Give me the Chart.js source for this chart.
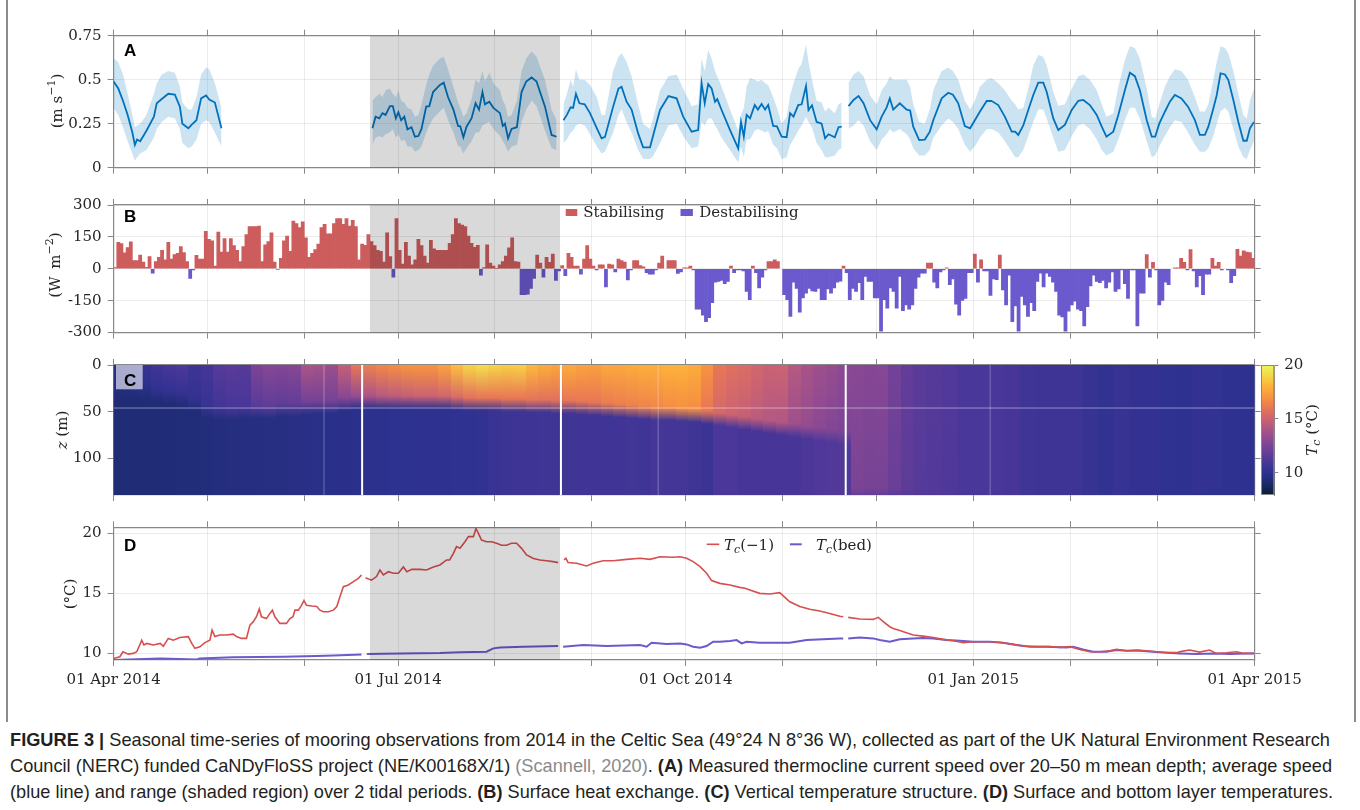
<!DOCTYPE html>
<html>
<head>
<meta charset="utf-8">
<title>Celtic Sea mooring time-series, 2014–2015</title>
<script src="https://cdn.jsdelivr.net/npm/chart.js@4.4.1/dist/chart.umd.min.js"></script>
<style>
  html, body { margin: 0; padding: 0; background: #fff; }
  #fig { position: relative; width: 1360px; height: 810px; overflow: hidden; background: #fff; }
  #fig canvas { position: absolute; }
  .edge { position: absolute; background: #8c8c8c; }
  .cap { position: absolute; left: 10px; white-space: nowrap; font-family: "Liberation Sans", Arial, sans-serif;
         font-size: 19px; line-height: 20px; color: #231f20; transform-origin: 0 50%; }
  .cap b { font-weight: bold; }
  .cap .ref { color: #8a8a8a; }
</style>
</head>
<body>
<div id="fig">
  <div class="edge" style="left:6px;top:0;width:2px;height:722px"></div>
  <div class="edge" style="left:1354px;top:0;width:2px;height:722px"></div>
  <canvas id="cA"></canvas>
  <canvas id="cB"></canvas>
  <canvas id="cC"></canvas>
  <canvas id="cBar"></canvas>
  <canvas id="cD"></canvas>
  <div class="cap" data-w="1320" style="top:730px"><b>FIGURE 3 |</b> Seasonal time-series of mooring observations from 2014 in the Celtic Sea (49°24 N 8°36 W), collected as part of the UK Natural Environment Research</div>
  <div class="cap" data-w="1322" style="top:756px">Council (NERC) funded CaNDyFloSS project (NE/K00168X/1) <span class="ref">(Scannell, 2020)</span>. <b>(A)</b> Measured thermocline current speed over 20–50 m mean depth; average speed</div>
  <div class="cap" data-w="1323" style="top:782px">(blue line) and range (shaded region) over 2 tidal periods. <b>(B)</b> Surface heat exchange. <b>(C)</b> Vertical temperature structure. <b>(D)</b> Surface and bottom layer temperatures.</div>
</div>
<script>
// ---------------------------------------------------------------------------
// Time axis: days since 01 Apr 2014
// ---------------------------------------------------------------------------
const monthTicks = [0, 30, 61, 91, 122, 153, 183, 214, 244, 275, 306, 334, 365];
const dateLabels = { 0: '01 Apr 2014', 91: '01 Jul 2014', 183: '01 Oct 2014', 275: '01 Jan 2015', 365: '01 Apr 2015' };
const shadeStart = 82.0;   // highlighted period
const shadeEnd = 142.8;

// ---------------------------------------------------------------------------
// (A) thermocline current speed (m/s): mean and range over 2 tidal periods
// null entries mark gaps between deployments
// ---------------------------------------------------------------------------
const speedDay = [
  0,1.5,3,4.5,6,6.8,7.5,8.5,10.5,12.9,13.8,15.4,17.5,19.6,21.2,22,23.9,25,26.5,28,29.6,30.6,32.4,34.5,
  58,
  82.8,83.8,85,86,87,88.4,89.3,90.3,91.1,92,93,94,95.3,96.4,97.5,98.5,100,101,102.2,104.4,105.6,107,108.7,110.2,110.9,111.9,112.9,114.5,115.8,116.9,118,118.8,120.2,121.5,123.6,124.5,125.2,126.2,127.3,129,130.5,132,133.7,135.3,138,140.1,141.7,
  142.8,
  143.9,145,146.2,147,147.9,149,150.7,152.4,154.6,156.1,157.2,159.8,161.5,162.5,164.1,165.7,167.8,169.4,171.6,172.7,174.8,177.5,180.1,182.2,184.9,187,188.1,189.1,190.2,191.3,192.4,193.1,194.5,197.2,199.8,200.7,201.6,202.5,203.6,205.1,206.1,207.3,208.4,209.4,211,212.2,213.7,215.3,216.4,217.5,219,220.1,221.5,222.3,223.4,224.9,226.5,227.6,228.7,230.7,231.9,232.9,
  234,
  235.1,236.7,238.3,239.9,242,244.1,245.7,247.3,248.3,249.4,251.5,253.7,254.8,255.8,257.7,259.5,261.1,262.2,264.9,267,268.5,270.2,272.3,274,275.5,277.1,279.3,280.8,283,285.1,287.3,288.4,289.4,291,292.6,294.2,295.8,297.4,298.5,300.6,302.2,304.3,306.5,308.6,310.2,312.3,314.5,316.1,317.6,319.8,321.4,323.5,325.1,326.7,328.3,330.5,332.1,333.2,334.5,336.3,337.9,339.5,341.6,343.7,345.9,347.5,349.1,350.2,351.8,352.9,354.1,355.5,356.6,358.2,359.8,361.4,362.5,363.5,364.8
];
const speedMean = [
  0.49,0.45,0.38,0.30,0.20,0.13,0.16,0.15,0.21,0.29,0.366,0.39,0.42,0.415,0.347,0.25,0.224,0.245,0.27,0.394,0.41,0.387,0.37,0.224,
  null,
  0.224,0.29,0.28,0.31,0.30,0.35,0.35,0.28,0.315,0.27, 0.29,0.218,0.23,0.176,0.18,0.22,0.347,0.35,0.43,0.47, 0.483,0.40,0.33,0.237,0.235,0.173,0.233,0.28,0.366,0.33, 0.43,0.36,0.375,0.34,0.31,0.237,0.25,0.167,0.22,0.23, 0.43,0.49,0.513,0.49,0.347,0.186,0.176,
  null,
  0.27,0.30,0.343,0.34,0.42,0.366,0.36,0.31,0.224,0.167, 0.175,0.347,0.45,0.46,0.375,0.33,0.195,0.116,0.116,0.19, 0.328,0.407,0.394,0.29,0.205,0.214,0.48,0.366,0.475,0.45, 0.375,0.39,0.328,0.214,0.11,0.26,0.176,0.30,0.28,0.356, 0.33,0.362,0.33,0.356,0.237,0.235,0.176,0.173,0.31,0.29, 0.356,0.36,0.464,0.328,0.355,0.26,0.25,0.167,0.19,0.173, 0.23,0.233,
  null,
  0.35,0.385,0.407,0.366,0.27,0.218,0.29,0.343,0.394,0.33, 0.366,0.33,0.325,0.233,0.157,0.16,0.205,0.27,0.394,0.426, 0.415,0.366,0.237,0.224,0.27,0.318,0.379,0.38,0.356,0.29, 0.205,0.205,0.186,0.24,0.328,0.413,0.483,0.483,0.43,0.28, 0.214,0.243,0.328,0.38,0.385,0.356,0.30,0.233,0.176,0.205, 0.30,0.44,0.54,0.52,0.44,0.27,0.176,0.176,0.25,0.318, 0.375,0.413,0.394,0.347,0.27,0.186,0.186,0.233,0.337,0.413, 0.536,0.53,0.498,0.385,0.26,0.153,0.153,0.224,0.26
];
const speedLow = [
  0.34,0.30,0.23,0.15,0.08,0.04,0.06,0.08,0.10,0.17,0.22,0.26,0.29,0.28,0.22,0.14,0.11,0.12,0.16,0.25,0.27,0.26,0.20,0.12,
  null,
  0.13,0.17,0.18,0.17,0.19,0.20,0.22,0.17,0.19,0.15, 0.16,0.12,0.12,0.09,0.10,0.12,0.20,0.24,0.28,0.32, 0.34,0.27,0.20,0.12,0.12,0.08,0.11,0.15,0.20,0.20, 0.24,0.25,0.26,0.22,0.18,0.15,0.13,0.09,0.12,0.13, 0.26,0.33,0.38,0.35,0.21,0.11,0.10,
  null,
  0.14,0.16,0.20,0.21,0.24,0.25,0.24,0.19,0.12,0.08, 0.09,0.20,0.30,0.33,0.26,0.20,0.10,0.05,0.05,0.07, 0.14,0.24,0.25,0.18,0.11,0.12,0.26,0.24,0.28,0.28, 0.24,0.22,0.17,0.10,0.03,0.12,0.06,0.16,0.16,0.21, 0.22,0.21,0.20,0.21,0.13,0.11,0.05,0.06,0.13,0.16, 0.21,0.24,0.29,0.26,0.23,0.14,0.10,0.06,0.06,0.07, 0.10,0.11,
  null,
  0.22,0.24,0.27,0.24,0.15,0.10,0.16,0.19,0.22,0.20, 0.22,0.19,0.16,0.11,0.07,0.07,0.10,0.17,0.24,0.28, 0.26,0.22,0.13,0.09,0.12,0.17,0.22,0.22,0.20,0.15, 0.09,0.06,0.06,0.10,0.18,0.26,0.33,0.33,0.28,0.17, 0.09,0.10,0.18,0.24,0.25,0.22,0.16,0.10,0.07,0.09, 0.16,0.27,0.34,0.34,0.28,0.15,0.06,0.07,0.12,0.18, 0.23,0.27,0.26,0.20,0.13,0.09,0.09,0.11,0.18,0.25, 0.32,0.34,0.32,0.22,0.12,0.06,0.05,0.10,0.15
];
const speedHigh = [
  0.62,0.60,0.53,0.42,0.30,0.23,0.24,0.25,0.30,0.42,0.48,0.53,0.55,0.54,0.46,0.37,0.33,0.33,0.40,0.53,0.57,0.56,0.48,0.34,
  null,
  0.38,0.40,0.42,0.40,0.44,0.45,0.42,0.40,0.44,0.38, 0.37,0.34,0.33,0.29,0.30,0.36,0.47,0.53,0.58,0.62, 0.63,0.56,0.46,0.37,0.34,0.29,0.31,0.39,0.50,0.48, 0.55,0.49,0.54,0.48,0.44,0.38,0.36,0.29,0.30,0.38, 0.55,0.62,0.66,0.63,0.50,0.33,0.27,
  null,
  0.36,0.42,0.50,0.46,0.56,0.50,0.50,0.47,0.40,0.30, 0.30,0.55,0.63,0.65,0.60,0.52,0.36,0.25,0.22,0.29, 0.44,0.52,0.53,0.45,0.35,0.36,0.62,0.55,0.67,0.62, 0.55,0.52,0.46,0.33,0.21,0.30,0.34,0.46,0.51,0.50, 0.49,0.50,0.48,0.47,0.40,0.34,0.25,0.29,0.41,0.48, 0.56,0.59,0.70,0.60,0.50,0.38,0.37,0.32,0.34,0.31, 0.36,0.37,
  null,
  0.48,0.53,0.55,0.52,0.41,0.36,0.44,0.48,0.52,0.50, 0.50,0.50,0.46,0.36,0.26,0.25,0.33,0.44,0.55,0.57, 0.55,0.50,0.38,0.33,0.38,0.46,0.50,0.51,0.48,0.44, 0.38,0.36,0.33,0.34,0.45,0.58,0.64,0.63,0.58,0.43, 0.35,0.36,0.45,0.52,0.53,0.50,0.44,0.36,0.29,0.31, 0.46,0.61,0.69,0.68,0.62,0.45,0.29,0.28,0.36,0.46, 0.52,0.56,0.55,0.50,0.40,0.32,0.32,0.36,0.50,0.60, 0.69,0.68,0.65,0.55,0.42,0.30,0.28,0.38,0.45
];

// ---------------------------------------------------------------------------
// (B) daily surface heat exchange (W m-2), one value per day from 01 Apr 2014
// ---------------------------------------------------------------------------
const heatFlux = [
  5,124,119,75,100,127,39,39,64,31,        7,57,-21,34,54,87,42,124,45,67,
  72,104,76,34,-45,-5,63,45,45,176,        139,131,12,172,79,142,79,142,109,87,
  34,104,161,198,198,198,201,34,112,128,   169,31,-3,49,131,154,82,224,213,194,
  221,146,54,72,90,116,194,209,164,164,    213,236,236,209,236,201,228,198,42,116,
  110,161,128,109,87,82,31,169,57,-40,     236,87,22,124,60,19,42,139,109,60,
  27,134,94,87,87,87,87,120,161,236,       213,205,198,154,120,101,110,-30,5,112,
  27,12,2,19,34,60,98,146,34,31,           -122,-122,-120,-92,-45,64,27,-40,54,30,
  69,-55,-10,15,-33,72,54,12,12,-25,       45,109,45,12,-6,19,19,-85,22,19,
  -15,45,39,31,-52,-6,39,39,15,9,          -18,-25,-25,-6,27,60,0,39,39,39,
  -22,-15,4,4,12,-5,-190,-190,-219,-249,   -230,-160,-63,-60,-55,-70,-60,12,-18,-6,
  -6,-10,-107,-145,12,-18,-90,-40,-6,34,   34,42,34,0,-122,-145,-224,-63,-92,-204,
  -137,-115,-92,-104,-107,-92,-145,-145,-95,-115, -90,-63,-58,12,-18,-145,-92,-107,-66,-145,
  -36,-60,-60,-137,-137,-294,-145,-185,-90,-107,  -185,-36,-197,-170,-190,-170,-92,-40,-21,-21,
  27,27,-63,-90,-15,-6,4,-75,-48,-167,     -219,-149,-140,-18,-18,69,-63,42,-10,-10,
  -125,-48,-51,64,-100,-170,-30,-249,-175,-294, -130,-170,-224,-160,-197,-60,-21,-85,-21,-36,
  -63,-107,-219,-227,-294,-200,-170,-152,-190,-197, -269,-179,-81,-30,-60,-66,-55,-90,-63,-15,
  -107,-95,-6,-70,-140,-6,-6,-269,-115,-115, 67,-40,30,-6,-170,-149,-63,-75,0,4,
  4,49,30,-6,90,-10,-85,-33,-122,-25,      -25,49,12,30,-6,0,-6,-66,-33,91,
  60,84,79,76,49
];

// ---------------------------------------------------------------------------
// (C) temperature structure: one profile per column (start day)
// surface temperature, temperature at the base of the upper layer,
// thermocline depth (m) and near-bed temperature (°C)
// ---------------------------------------------------------------------------
const colDay = [
  0,4,8,12,16,20,24,28,32,36, 40,44,48,52,56,60,64,68,72,76, 80,84,88,92,96,100,104,108,112,116,
  120,124,128,132,136,140,144,148,152,156, 160,164,168,172,176,180,184,188,192,196,
  200,204,208,212,216,220,224,228,232,236, 240,244,248,252,256,260,
  265,270,275,280,285,290,295,300,305,310,315,320,325,330,335,340,345,350,355,360
];
const colTop = [
  9.8,10.0,10.4,10.7,10.9,11.1,10.6,10.8,11.4,11.5, 11.4,12.6,12.9,12.8,12.9,14.0,13.8,13.5,14.8,16.0,
  16.3,16.6,16.8,17.0,17.0,17.0,17.5,18.4,19.0,19.3, 19.0,18.8,18.9,18.2,17.8,17.6,17.8,17.5,17.4,17.7,
  17.7,17.8,17.9,17.9,18.0,18.0,17.8,17.0,16.0,15.7, 15.5,15.2,14.95,15.0,14.3,13.9,13.6,13.35,13.1,12.95,
  12.85,12.9,12.3,11.8,11.5,11.35,
  11.2,10.95,10.97,10.97,10.9,10.62,10.56,10.55,10.55,10.3,10.14,10.3,10.22,10.2,10.1,10.08,10.2,10.15,10.05,10.05
];
const colMix = [
  9.6,9.7,9.9,10.1,10.2,10.3,10.2,10.4,10.7,10.9, 11.0,11.5,11.7,11.7,11.8,12.3,12.4,12.4,12.9,13.4,
  14.0,14.4,14.6,14.8,15.0,15.0,15.2,15.5,15.8,16.0, 16.0,16.0,16.0,15.9,15.8,15.7,16.0,16.0,16.0,16.2,
  16.3,16.4,16.5,16.6,16.8,16.9,16.8,16.0,15.3,15.0, 14.8,14.5,14.3,14.2,13.6,13.3,13.0,12.8,12.6,12.5,
  12.4,12.4,12.0,11.6,11.4,11.3,
  11.15,10.95,10.97,10.97,10.9,10.62,10.56,10.55,10.55,10.3,10.14,10.3,10.22,10.2,10.1,10.08,10.2,10.15,10.05,10.05
];
const colMld = [
  28,28,30,32,34,35,42,50,52,52, 50,50,50,48,48,46,45,45,42,40,
  40,40,40,40,40,40,40,41,42,42, 42,43,43,44,44,45,45,46,47,48,
  49,50,51,52,52,53,54,56,58,60, 62,64,66,68,70,72,74,76,78,139,
  139,139,139,139,139,139,
  139,139,139,139,139,139,139,139,139,139,139,139,139,139,139,139,139,139,139,139
];
const colBed = [
  9.3,9.3,9.3,9.3,9.35,9.4,9.4,9.45,9.5,9.55, 9.6,9.6,9.65,9.65,9.7,9.75,9.8,9.8,9.85,9.9,
  9.95,9.95,10.0,10.0,10.03,10.05,10.05,10.1,10.1,10.15, 10.4,10.5,10.55,10.55,10.6,10.6,10.6,10.65,10.65,10.62,
  10.65,10.68,10.65,10.85,10.8,10.8,10.6,10.5,10.95,11.0, 10.9,10.9,10.89,10.89,10.9,11.05,11.15,11.2,11.25,11.9,
  11.7,11.7,11.5,11.35,11.3,11.27,
  11.12,11.05,10.97,10.97,10.88,10.62,10.56,10.55,10.53,10.3,10.14,10.28,10.22,10.18,10.08,10.02,9.95,10.0,9.95,10.0
];
const zBottom = 139;              // water depth shown (m)
const refDepth = 46;              // reference depth line (m)
const gapDays = [79.5, 143.1, 234.2];     // record breaks
const seamDays = [67.3, 174.2, 280.4];    // faint seams between sections

// colour scale for T_c (°C)
const cbTemp = [8, 9, 10, 11, 12, 13, 14, 15, 16, 17, 18, 19, 20];
const cbColour = ['#0b1f36', '#1b2a6b', '#2d3190', '#4a3799', '#693f98', '#8a4894', '#ab5487',
                  '#cc6372', '#e87656', '#f8933f', '#fdb13a', '#f6d547', '#e8f95b'];

// ---------------------------------------------------------------------------
// (D) surface (-1 m) and near-bed temperatures (°C)
// ---------------------------------------------------------------------------
const tSurfDay = [
  0,2,3,4.7,6.3,7.4,8.2,9,9.7,10.6, 12.7,14.9,15.9,17.5,19.1,21.2,23.9,25,26,27.6, 29.2,30.8,31.5,32.4,34,36.1,38.3,39.3,40.9,42.5,
  43.6,44.7,45.7,46.6,47.3,48.9,50,50.8,51.6,53.2, 55.3,56.4,57.4,58,59.1,60.1,60.9,61.7,63.4,65, 66,67.1,68.7,70.3,71.4,72.4,73.5,75.1,76.7,78.3, 79.3,
  79.8,
  80.6,82.5,84.1,85.2,86.3,87.9,89.5,91.1,92.7,93.8, 95.4,98,100.1,102.3,104.4,106.5,107.5,108.7,109.7,110.8,
  112.4,113.5,115.1,115.9,116.7,117.7,119.3,120.9,122.5,124.1, 125.7,127.3,128.9,130.5,132.1,134.3,136.4,138.5,140.6,142.2,
  143,
  144.1,144.7,145.4,148.1,151.3,153.4,156.6,159.8,164.1,168.4, 171.6,174.8,179,181.2,183.3,185.4,187.6,189.7,191.3,193.9,
  197.2,200.3,202,203.5,206.7,210,213.1,216.3,219.5,222.7, 225.9,229.1,232.3,233.4,
  234,
  235,238.7,243,244.6,246.2,248.3,249.4,251.5,253.6,255.8, 258.9,262.2,265.4,268.6,271.8,275,278.1,281.3,284.5,287.7,
  290.9,295.2,299.5,302.7,305.9,309.1,312.3,315.5,318.7,320.8, 324,327.2,330.4,333.6,336.8,340,341.6,344.2,347.4,350.6,
  352.8,356,359.2,361.3,364.8
];
const tSurf = [
  9.58,9.72,10.14,9.94,10.0,10.14,10.6,11.1,10.7,10.83, 10.7,10.83,10.6,11.25,11.1,11.33,11.4,10.83,10.42,10.55, 10.9,11.1,11.94,11.4,11.53,11.53,11.6,11.4,11.25,11.25,
  12.36,12.64,13.05,13.7,13.05,12.9,13.33,13.6,13.05,12.5, 12.5,12.9,13.05,13.6,13.6,14.0,14.4,14.0,13.94,13.9, 13.6,13.47,13.47,13.6,13.9,14.72,15.55,15.7,15.97,16.25, 16.53,
  null,
  16.3,16.1,16.4,16.94,16.53,16.8,16.67,16.67,17.2,16.8, 17.0,17.0,16.94,17.2,17.36,17.78,17.78,18.33,18.89,18.75,
  19.3,19.72,19.72,20.4,20.0,19.44,19.3,19.3,19.17,19.0, 19.0,19.17,19.17,18.75,18.2,17.9,17.78,17.72,17.64,17.56,
  null,
  17.78,17.92,17.56,17.5,17.28,17.5,17.72,17.72,17.83,17.92, 17.83,18.05,18.0,18.05,17.92,17.64,17.22,16.67,16.06,15.83,
  15.7,15.5,15.42,15.28,15.0,14.94,15.06,14.3,13.9,13.67, 13.53,13.33,13.1,13.05,
  null,
  13.0,12.86,12.83,13.0,12.64,12.22,12.08,11.9,11.72,11.53, 11.44,11.33,11.17,11.06,10.89,10.97,10.97,10.97,10.89,10.75,
  10.61,10.56,10.56,10.5,10.56,10.33,10.14,10.14,10.22,10.33, 10.22,10.28,10.22,10.14,10.08,10.06,10.17,10.28,10.11,10.28,
  10.0,10.06,10.14,10.0,10.0
];
const tBedDay = [
  0,14.9,26.5,27.6,38.3,54.3,65,70.3,79.3,
  79.8,
  81,91.7,104.4,110.8,119.3,121.5,123.6,131,142.2,
  143,
  143.8,150.3,157.7,168.4,170.5,172.1,176.9,181.2,183.3,185.4, 187.6,189.7,191.8,193.9,197.2,199.3,200.9,202.5,206.7,211, 216.3,221.7,227,232.3,233.4,
  234,
  235,238.7,243,245.1,248.3,251.5,255.8,258.9,262.2,266.4, 270.7,275,280.3,284.5,288.8,293.1,298.4,304.8,306.9,310.1,
  313.3,317.6,320.8,324,328.3,332.5,336.8,341.1,346.4,351.7, 357,362.4,364.8
];
const tBed = [
  9.44,9.58,9.5,9.58,9.67,9.72,9.78,9.83,9.9,
  null,
  9.94,10.0,10.03,10.1,10.14,10.42,10.5,10.56,10.61,
  null,
  10.56,10.69,10.61,10.69,10.56,10.89,10.78,10.83,10.75,10.56, 10.47,10.61,10.97,10.97,11.03,11.11,10.83,10.97,10.89,10.89, 10.89,11.11,11.17,11.25,11.25,
  null,
  11.25,11.33,11.25,11.11,10.97,11.17,11.25,11.28,11.25,11.11, 11.06,10.97,10.97,10.89,10.69,10.56,10.56,10.5,10.56,10.33,
  10.14,10.14,10.28,10.22,10.22,10.14,10.06,10.0,9.94,10.0, 9.94,10.0,10.0
];

// ---------------------------------------------------------------------------
// Styling and layout
// ---------------------------------------------------------------------------
const W = 1360, LEFT = 113.6, RIGHT = 1254.6;
const INK = '#262626', AXIS = '#888888', GRID = 'rgba(0,0,0,0.075)';
const SERIF = '"DejaVu Serif", "Liberation Serif", serif';
const SPEED_LINE = '#0072bd', SPEED_BAND = 'rgba(0,114,189,0.2)';
const STAB = '#cd5c5c', DESTAB = '#6a5acd';
const T_SURF = '#d6504f', T_BED = '#6a5acd';

Chart.defaults.font.family = SERIF;
Chart.defaults.font.size = 15;
Chart.defaults.color = INK;
Chart.defaults.animation = false;
Chart.defaults.responsive = false;
Chart.defaults.maintainAspectRatio = false;
Chart.defaults.devicePixelRatio = 1;
Chart.defaults.events = [];
Chart.defaults.plugins.legend.display = false;
Chart.defaults.plugins.tooltip.enabled = false;

const boxA = { t: 0,   h: 190, top: 35.7, bottom: 167.7 };
const boxB = { t: 190, h: 160, top: 9.3,  bottom: 142.5 };
const boxC = { t: 350, h: 160, top: 14,   bottom: 145.7 };
const boxD = { t: 510, h: 200, top: 17.3, bottom: 150, dates: true };

const pts = (xs, ys) => xs.map((x, i) => ({ x, y: ys[i] }));

function canvasFor(id, box, left, width) {
  const cv = document.getElementById(id);
  cv.width = width || W;
  cv.height = box.h;
  cv.style.left = (left || 0) + 'px';
  cv.style.top = box.t + 'px';
  return cv;
}

function frameScales(box, yo) {
  const months = s => { s.ticks = monthTicks.map(v => ({ value: v })); };
  const yTicks = s => { s.ticks = yo.ticks.map(v => ({ value: v })); };
  const grid = onArea => ({ display: true, drawOnChartArea: onArea, offset: false, color: GRID, lineWidth: 1,
                            tickColor: AXIS, tickLength: 6, tickWidth: 1 });
  const border = { display: true, color: AXIS, width: 1.2 };
  return {
    x: { type: 'linear', position: 'bottom', min: 0, max: 365, offset: false, afterBuildTicks: months,
         afterFit: s => { s.height = box.h - box.bottom; }, grid: grid(yo.grid !== false), border,
         ticks: { autoSkip: false, maxRotation: 0, minRotation: 0, padding: 5, color: INK,
                  callback: v => box.dates ? (dateLabels[v] || '') : '' } },
    xt: { type: 'linear', position: 'top', min: 0, max: 365, offset: false, afterBuildTicks: months,
          afterFit: s => { s.height = box.top; }, grid: grid(false), border, ticks: { callback: () => '' } },
    y: { type: 'linear', position: 'left', min: yo.min, max: yo.max, reverse: !!yo.reverse, afterBuildTicks: yTicks,
         afterFit: s => { s.width = LEFT; }, grid: grid(yo.grid !== false), border,
         ticks: { padding: 6, color: INK, callback: yo.fmt } },
    yr: { type: 'linear', position: 'right', min: yo.min, max: yo.max, reverse: !!yo.reverse, afterBuildTicks: yTicks,
          afterFit: s => { s.width = W - RIGHT; }, grid: grid(false), border, ticks: { callback: () => '' } }
  };
}

// ---- text helpers -----------------------------------------------------------
function rich(ctx, parts, x, y, size, align) {
  const font = p => `${p.i ? 'italic ' : ''}${(p.sup || p.sub) ? Math.round(size * 0.7) : size}px ${SERIF}`;
  let w = 0;
  for (const p of parts) { ctx.font = font(p); w += ctx.measureText(p.t).width; }
  let cx = align === 'center' ? x - w / 2 : align === 'right' ? x - w : x;
  ctx.textAlign = 'left';
  ctx.textBaseline = 'alphabetic';
  for (const p of parts) {
    ctx.font = font(p);
    const dy = p.sup ? -size * 0.42 : p.sub ? size * 0.25 : 0;
    ctx.fillText(p.t, cx, y + dy);
    cx += ctx.measureText(p.t).width;
  }
}
function vrich(ctx, parts, xb, cy, size) {
  ctx.save();
  ctx.translate(xb, cy);
  ctx.rotate(-Math.PI / 2);
  ctx.fillStyle = INK;
  rich(ctx, parts, 0, 0, size || 15, 'center');
  ctx.restore();
}
function panelLetter(ctx, L, x, base, fill) {
  ctx.save();
  if (fill) { ctx.fillStyle = fill; ctx.fillRect(x - 8, base - 20.7, 26.7, 24.3); }
  ctx.font = 'bold 17px "Liberation Sans", Arial, sans-serif';
  ctx.fillStyle = '#000';
  ctx.textAlign = 'left';
  ctx.textBaseline = 'alphabetic';
  ctx.fillText(L, x, base);
  ctx.restore();
}
const decor = (id, fn) => ({ id, afterDraw: c => fn(c.ctx, c) });

// shaded period, laid over the data
const shade = {
  id: 'shade',
  afterDatasetsDraw(chart) {
    const { ctx, chartArea: a, scales: { x } } = chart;
    const x0 = x.getPixelForValue(shadeStart), x1 = x.getPixelForValue(shadeEnd);
    ctx.save();
    ctx.fillStyle = 'rgba(0,0,0,0.15)';
    ctx.fillRect(x0, a.top, x1 - x0, a.bottom - a.top);
    ctx.restore();
  }
};

// colour map lookup
function hexRgb(h) { const n = parseInt(h.slice(1), 16); return [n >> 16 & 255, n >> 8 & 255, n & 255]; }
function thermal(T) {
  const n = cbTemp.length;
  if (T <= cbTemp[0]) return cbColour[0];
  if (T >= cbTemp[n - 1]) return cbColour[n - 1];
  let i = 0;
  while (T > cbTemp[i + 1]) i++;
  const f = (T - cbTemp[i]) / (cbTemp[i + 1] - cbTemp[i]);
  const a = hexRgb(cbColour[i]), b = hexRgb(cbColour[i + 1]);
  return `rgb(${a.map((v, k) => Math.round(v + (b[k] - v) * f)).join(',')})`;
}

// ---------------------------------------------------------------------------
// (A) current speed
// ---------------------------------------------------------------------------
new Chart(canvasFor('cA', boxA), {
  type: 'line',
  data: { datasets: [
    { data: pts(speedDay, speedLow), borderColor: 'transparent', borderWidth: 0, pointRadius: 0, fill: false },
    { data: pts(speedDay, speedHigh), borderColor: 'transparent', borderWidth: 0, pointRadius: 0, fill: '-1', backgroundColor: SPEED_BAND },
    { data: pts(speedDay, speedMean), borderColor: SPEED_LINE, borderWidth: 1.8, pointRadius: 0, fill: false }
  ] },
  options: {
    layout: { padding: 0 },
    scales: frameScales(boxA, { min: 0, max: 0.75, ticks: [0, 0.25, 0.5, 0.75], fmt: v => String(v) })
  },
  plugins: [shade, decor('labA', ctx => {
    panelLetter(ctx, 'A', 124, 56, null);
    vrich(ctx, [{ t: '(m s' }, { t: '−1', sup: true }, { t: ')' }], 61.5, 101);
  })]
});

// ---------------------------------------------------------------------------
// (B) surface heat exchange
// ---------------------------------------------------------------------------
const heatDays = heatFlux.map((v, i) => i + 0.5);
new Chart(canvasFor('cB', boxB), {
  type: 'bar',
  data: { datasets: [
    { label: 'Stabilising', data: pts(heatDays, heatFlux.map(v => v > 0 ? v : null)), backgroundColor: STAB,
      borderWidth: 0, grouped: false, barPercentage: 1, categoryPercentage: 1 },
    { label: 'Destabilising', data: pts(heatDays, heatFlux.map(v => v < 0 ? v : null)), backgroundColor: DESTAB,
      borderWidth: 0, grouped: false, barPercentage: 1, categoryPercentage: 1 }
  ] },
  options: {
    layout: { padding: 0 },
    scales: frameScales(boxB, { min: -300, max: 300, ticks: [-300, -150, 0, 150, 300], fmt: v => String(v) })
  },
  plugins: [shade, decor('labB', (ctx, chart) => {
    panelLetter(ctx, 'B', 124, 31.7, null);
    vrich(ctx, [{ t: '(W\u2009 m' }, { t: '−2', sup: true }, { t: ')' }], 59.5, 75);
    const ds = chart.data.datasets;
    ctx.save();
    ctx.fillStyle = ds[0].backgroundColor; ctx.fillRect(565.7, 19, 11.6, 7);
    ctx.fillStyle = ds[1].backgroundColor; ctx.fillRect(680.5, 19, 12.4, 7);
    ctx.fillStyle = INK;
    rich(ctx, [{ t: ds[0].label }], 583.3, 27.2, 15, 'left');
    rich(ctx, [{ t: ds[1].label }], 699.3, 27.2, 15, 'left');
    ctx.restore();
  })]
});

// ---------------------------------------------------------------------------
// (C) temperature structure
// ---------------------------------------------------------------------------
const heatmap = {
  id: 'heatmap',
  beforeDatasetsDraw(chart) {
    const { ctx, chartArea: a, scales: { x, y } } = chart;
    const y0 = y.getPixelForValue(0), y1 = y.getPixelForValue(zBottom);
    const frac = z => (y.getPixelForValue(Math.max(0, Math.min(zBottom, z))) - y0) / (y1 - y0);
    ctx.save();
    ctx.beginPath(); ctx.rect(a.left, a.top, a.right - a.left, a.bottom - a.top); ctx.clip();
    for (let i = 0; i < colDay.length; i++) {
      const xa = x.getPixelForValue(colDay[i]);
      const xb = x.getPixelForValue(i + 1 < colDay.length ? colDay[i + 1] : 365);
      const g = ctx.createLinearGradient(0, y0, 0, y1);
      g.addColorStop(0, thermal(colTop[i]));
      const zm = colMld[i], half = 7;
      if (zm - half < zBottom) {
        g.addColorStop(frac(zm - half), thermal(colMix[i]));
        g.addColorStop(frac(zm + half), thermal(colBed[i]));
      }
      g.addColorStop(1, thermal(colBed[i]));
      ctx.fillStyle = g;
      ctx.fillRect(Math.floor(xa), y0, Math.ceil(xb) - Math.floor(xa) + 1, y1 - y0);
    }
    // reference depth
    const yr = y.getPixelForValue(refDepth);
    ctx.fillStyle = 'rgba(255,255,255,0.45)';
    ctx.fillRect(a.left, yr - 0.5, a.right - a.left, 1);
    // faint seams and record breaks
    ctx.fillStyle = 'rgba(255,255,255,0.3)';
    seamDays.forEach(d => { const px = x.getPixelForValue(d); ctx.fillRect(px - 0.5, a.top, 1, a.bottom - a.top); });
    ctx.fillStyle = '#ffffff';
    gapDays.forEach(d => { const px = x.getPixelForValue(d); ctx.fillRect(px - 1, a.top, 2, a.bottom - a.top); });
    ctx.restore();
  }
};
new Chart(canvasFor('cC', boxC), {
  type: 'scatter',
  data: { datasets: [] },
  options: {
    layout: { padding: 0 },
    scales: frameScales(boxC, { min: 0, max: zBottom, reverse: true, grid: false, ticks: [0, 50, 100], fmt: v => String(v) })
  },
  plugins: [heatmap, decor('labC', ctx => {
    panelLetter(ctx, 'C', 124, 35.7, 'rgba(255,255,255,0.6)');
    vrich(ctx, [{ t: 'z', i: true }, { t: ' (m)' }], 66.5, 80);
  })]
});

// colour bar
const barBox = { t: 350, h: 160 };
new Chart(canvasFor('cBar', barBox, 1240, 120), {
  type: 'scatter',
  data: { datasets: [] },
  options: {
    layout: { padding: { left: 21, top: 14, bottom: 14.3, right: 0 } },
    scales: {
      x: { display: false, min: 0, max: 1 },
      y: { type: 'linear', position: 'right', min: 7.93, max: 20,
           afterBuildTicks: s => { s.ticks = [10, 15, 20].map(v => ({ value: v })); },
           afterFit: s => { s.width = 120 - 21 - 13.3; },
           grid: { drawOnChartArea: false, tickColor: AXIS, tickLength: 4, tickWidth: 1 },
           border: { display: true, color: AXIS, width: 1 },
           ticks: { padding: 6, color: INK, callback: v => String(v) } }
    }
  },
  plugins: [{
    id: 'cbar',
    beforeDatasetsDraw(chart) {
      const { ctx, chartArea: a, scales: { y } } = chart;
      const yb = y.getPixelForValue(7.93), yt = y.getPixelForValue(20);
      const g = ctx.createLinearGradient(0, yb, 0, yt);
      cbTemp.forEach((T, i) => {
        const f = (y.getPixelForValue(Math.max(T, 7.93)) - yb) / (yt - yb);
        g.addColorStop(Math.max(0, Math.min(1, f)), cbColour[i]);
      });
      ctx.save();
      ctx.fillStyle = g;
      ctx.fillRect(a.left, a.top, a.right - a.left, a.bottom - a.top);
      ctx.strokeStyle = AXIS; ctx.lineWidth = 1;
      ctx.strokeRect(a.left + 0.5, a.top + 0.5, a.right - a.left - 1, a.bottom - a.top - 1);
      ctx.restore();
    }
  }, decor('labBar', ctx => {
    vrich(ctx, [{ t: 'T', i: true }, { t: 'c', i: true, sub: true }, { t: ' (°C)' }], 1316.5 - 1240, 80);
  })]
});

// ---------------------------------------------------------------------------
// (D) surface and bed temperatures
// ---------------------------------------------------------------------------
new Chart(canvasFor('cD', boxD), {
  type: 'line',
  data: { datasets: [
    { label: 'surf', data: pts(tSurfDay, tSurf), borderColor: T_SURF, borderWidth: 1.6, pointRadius: 0, fill: false },
    { label: 'bed', data: pts(tBedDay, tBed), borderColor: T_BED, borderWidth: 2, pointRadius: 0, fill: false }
  ] },
  options: {
    layout: { padding: 0 },
    scales: frameScales(boxD, { min: 9.45, max: 20.5, ticks: [10, 15, 20], fmt: v => String(v) })
  },
  plugins: [shade, decor('labD', (ctx, chart) => {
    panelLetter(ctx, 'D', 124, 40.7, null);
    vrich(ctx, [{ t: '(°C)' }], 75, 84);
    const ds = chart.data.datasets;
    ctx.save();
    ctx.lineWidth = 1.6; ctx.strokeStyle = ds[0].borderColor;
    ctx.beginPath(); ctx.moveTo(706.7, 34.3); ctx.lineTo(719.3, 34.3); ctx.stroke();
    ctx.lineWidth = 2; ctx.strokeStyle = ds[1].borderColor;
    ctx.beginPath(); ctx.moveTo(790, 34.3); ctx.lineTo(801.7, 34.3); ctx.stroke();
    ctx.fillStyle = INK;
    rich(ctx, [{ t: 'T', i: true }, { t: 'c', i: true, sub: true }, { t: '(−1)' }], 724, 39.5, 15, 'left');
    rich(ctx, [{ t: 'T', i: true }, { t: 'c', i: true, sub: true }, { t: '(bed)' }], 816, 39.5, 15, 'left');
    ctx.restore();
  })]
});

// ---------------------------------------------------------------------------
// caption lines: condense each line to its column width
// ---------------------------------------------------------------------------
function fitCaption() {
  document.querySelectorAll('.cap').forEach(el => {
    el.style.transform = 'none';
    const w = el.getBoundingClientRect().width;
    el.style.transform = `scaleX(${(+el.dataset.w) / w})`;
  });
}
fitCaption();
if (document.fonts && document.fonts.ready) document.fonts.ready.then(fitCaption);
</script>
</body>
</html>
